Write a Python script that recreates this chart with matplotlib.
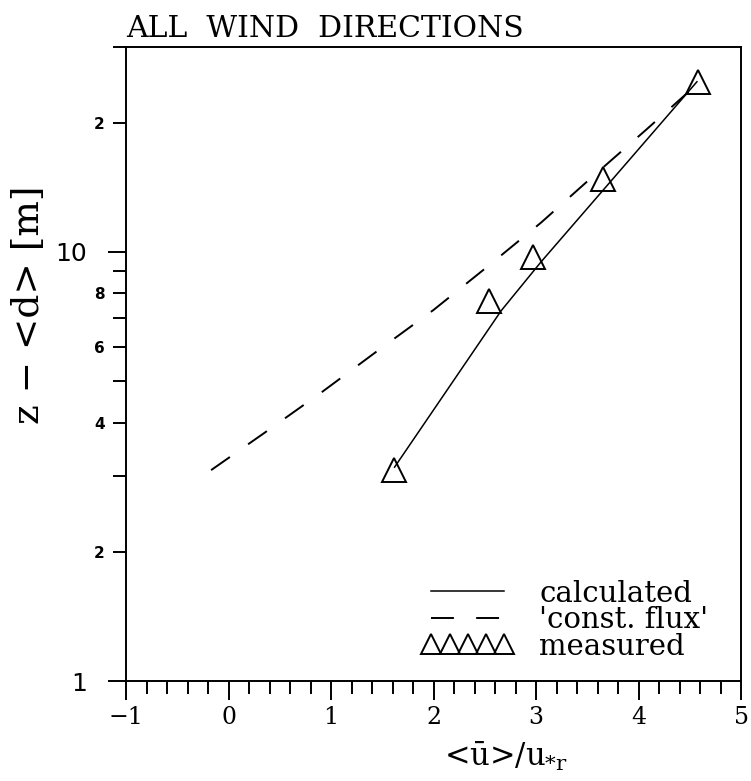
import numpy as np
import matplotlib.pyplot as plt
from matplotlib.ticker import FixedLocator, FixedFormatter

# measured mean wind speed, normalised by reference friction velocity
measured_u = [1.61, 2.54, 2.97, 3.65, 4.58]
measured_z = [3.11, 7.70, 9.73, 14.8, 24.9]

# model profile
calc_u = [1.62, 2.66, 3.05, 4.57]
calc_z = [3.15, 7.29, 9.48, 24.9]

# constant flux layer profile
const_u = [-0.17, 0.36, 0.91, 1.45, 2.00, 2.52, 3.05, 3.57, 4.08, 4.59]
const_z = [3.10, 3.80, 4.71, 5.87, 7.32, 9.21, 11.7, 15.1, 19.3, 24.8]

x_ticks = [-1, 0, 1, 2, 3, 4, 5]
x_ticklabels = ['\u22121', '0', '1', '2', '3', '4', '5']
y_major = [1, 10]
y_major_labels = ['1', '10']
y_minor = [2, 3, 4, 5, 6, 7, 8, 9, 20, 30]
y_minor_labels = ['2', '', '4', '', '6', '', '8', '', '2', '']

plt.rcParams['lines.scale_dashes'] = False
plt.rcParams['mathtext.fontset'] = 'dejavuserif'

fig = plt.figure(figsize=(7.51, 7.81), dpi=100)
ax = fig.add_axes([0.1678, 0.128, 0.8189, 0.8118])

ax.plot(calc_u, calc_z, color='black', lw=1.1, label='calculated')
ax.plot(const_u, const_z, color='black', lw=1.4, dashes=(16.5, 16),
        label="'const. flux'")
ax.plot(measured_u, measured_z, ls='none', marker='^', ms=17, mfc='none',
        mec='black', mew=1.4, label='measured')

ax.set_yscale('log')
ax.set_xlim(-1, 5)
ax.set_ylim(1, 30)

for s in ax.spines.values():
    s.set_linewidth(1.4)

ax.xaxis.set_major_locator(FixedLocator(x_ticks))
ax.xaxis.set_major_formatter(FixedFormatter(x_ticklabels))
ax.xaxis.set_minor_locator(FixedLocator(np.arange(-1, 5.01, 0.2)))
ax.yaxis.set_major_locator(FixedLocator(y_major))
ax.yaxis.set_major_formatter(FixedFormatter(y_major_labels))
ax.yaxis.set_minor_locator(FixedLocator(y_minor))
ax.yaxis.set_minor_formatter(FixedFormatter(y_minor_labels))

ax.tick_params(axis='x', which='major', direction='out', length=14, width=1.4,
               labelsize=17, labelfontfamily='DejaVu Serif', pad=4)
ax.tick_params(axis='x', which='minor', direction='out', length=9.5, width=1.4)
ax.tick_params(axis='y', which='major', direction='out', length=13, width=1.4,
               labelsize=18, labelfontfamily='DejaVu Sans', pad=15)
ax.tick_params(axis='y', which='minor', direction='out', length=9.5, width=1.4,
               labelsize=11, labelfontfamily='DejaVu Sans', pad=6)
for t in ax.get_yticklabels(minor=True):
    t.set_fontweight('bold')

ax.set_title('ALL  WIND  DIRECTIONS', loc='left', family='DejaVu Serif',
             size=21.5, pad=7)
ax.set_xlabel('<\u016b>/u$_{*\\mathrm{r}}$', family='DejaVu Serif', size=22)
ax.xaxis.set_label_coords(0.618, -0.093)
ax.set_ylabel('z \u2212 <d> [m]', family='DejaVu Serif', size=27)
ax.yaxis.set_label_coords(-0.128, 0.593)

ax.legend(loc='lower right', bbox_to_anchor=(0.966, 0.0138), borderaxespad=0,
          frameon=False, numpoints=5, markerscale=0.82,
          handlelength=3.1, handletextpad=0.9, labelspacing=-0.05,
          prop={'family': 'DejaVu Serif', 'size': 21})

fig.savefig('out.png', dpi=100)
